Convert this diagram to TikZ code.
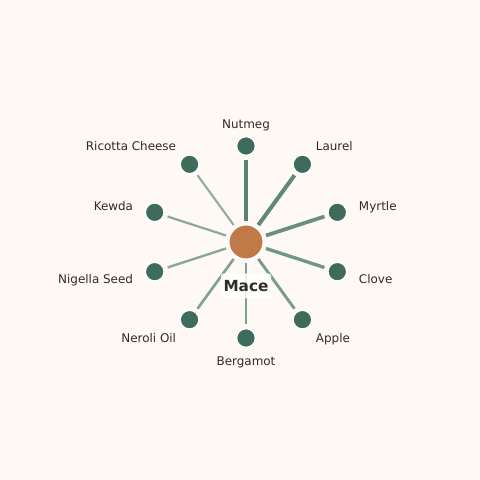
\documentclass[tikz,border=0pt]{standalone}
\usepackage{fontspec}
\setmainfont{DejaVu Sans}
\usetikzlibrary{calc}
\definecolor{fundo}{HTML}{FEF9F5}
\definecolor{verde}{HTML}{3E6B5B}
\definecolor{haste}{HTML}{4E7D6D}
\definecolor{laranja}{HTML}{C07A4A}
\definecolor{tinta}{HTML}{2E2B28}
\begin{document}
\begin{tikzpicture}[
  x=0.72pt, y=0.72pt,
  every node/.style={font=\fontsize{8.6}{10}\selectfont, text=tinta}
]
\tikzset{
  centro/.style={circle, fill=laranja, draw=white, line width=1.2pt, minimum size=25pt, inner sep=0pt},
  folha/.style={circle, fill=verde, draw=white, line width=1pt, minimum size=13.5pt, inner sep=0pt},
  rotulo/.style={inner sep=0pt, text height=6.4pt, text depth=1.2pt, yshift=-0.9pt},
  titulo/.style={fill=white, fill opacity=0.85, text opacity=1, rounded corners=2pt,
    inner xsep=2pt, minimum height=18pt, font=\fontsize{11}{13}\selectfont\bfseries}
}
\fill[fundo] (0,0) rectangle (480,480);
\useasboundingbox (0,0) rectangle (480,480);
\node[centro] (mace) at (246,238) {};
\foreach \a/\nome/\esp/\op/\ancora [count=\i] in {
  90/Nutmeg/3.2/0.95/center, 54/Laurel/2.9/0.9/west, 18/Myrtle/2.7/0.85/west,
  -18/Clove/2.4/0.8/west, -54/Apple/2.1/0.75/west, -90/Bergamot/2.0/0.72/center,
  -126/Neroli Oil/1.9/0.7/east, -162/Nigella Seed/1.7/0.66/east,
  162/Kewda/1.6/0.64/east, 126/Ricotta Cheese/1.5/0.62/east}
{
  \node[folha] (n\i) at ([shift={(\a:96)}]mace) {};
  \node[rotulo, anchor=\ancora] (r\i) at ([shift={(\a:118.5)}]mace) {\nome};
  \draw[haste, opacity=\op, line width=\esp pt, shorten <=2pt, shorten >=2.5pt] (mace) -- (n\i);
}
\node[titulo] (rotmace) at (246,194) {Mace}; % rotulo do centro
\end{tikzpicture}
\end{document}
